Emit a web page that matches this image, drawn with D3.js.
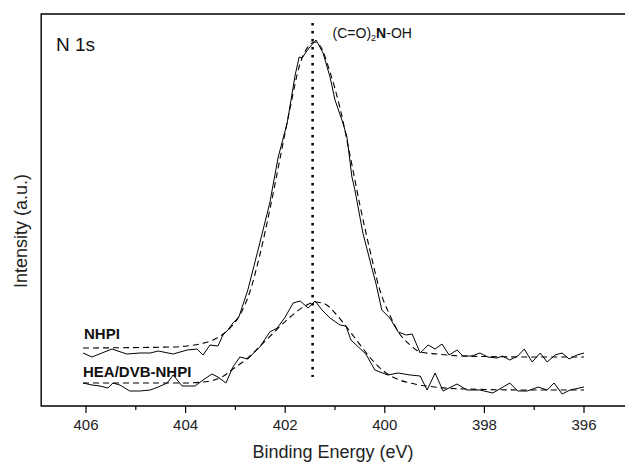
<!DOCTYPE html>
<html>
<head>
<meta charset="utf-8">
<script src="https://cdn.jsdelivr.net/npm/d3@7"></script>
<style>
  body { margin: 0; background: #fff; }
  svg { display: block; font-family: "Liberation Sans", Arial, sans-serif; }
</style>
</head>
<body>
<svg id="chart" width="625" height="463"></svg>
<script>
// N 1s XPS spectra, raw (solid) and fitted envelope (dashed)

// NHPI raw
const nhpiE = [406.06, 405.88, 405.48, 405.18, 404.92, 404.71, 404.55, 404.25, 403.97, 403.77,
  403.65, 403.51, 403.35, 403.25, 403.15, 403.05, 402.93, 402.83, 402.75, 402.51,
  402.31, 402.14, 401.96, 401.80, 401.72, 401.66, 401.58, 401.52, 401.38, 401.24,
  401.10, 401.00, 400.84, 400.76, 400.66, 400.60, 400.44, 400.26, 400.18, 400.06,
  399.90, 399.73, 399.57, 399.45, 399.29, 399.13, 398.99, 398.85, 398.71, 398.55,
  398.43, 398.25, 398.09, 397.93, 397.75, 397.63, 397.49, 397.33, 397.20, 397.04,
  396.88, 396.74, 396.58, 396.44, 396.30, 396.14, 396.00];
const nhpiI = [52, 48, 56, 51, 52, 52, 54, 51, 55, 56,
  50, 60, 59, 70, 75, 82, 88, 103, 115, 162,
  202, 248, 282, 330, 348, 347, 353, 357, 365, 352,
  328, 305, 282, 268, 228, 215, 172, 137, 122, 95,
  87, 73, 70, 71, 52, 60, 56, 61, 50, 55,
  49, 49, 52, 48, 47, 49, 45, 49, 56, 43,
  52, 43, 50, 52, 46, 50, 52];

// NHPI fit
const nhpiFitE = [406.06, 404.30, 403.97, 403.71, 403.45, 403.27, 403.11, 402.91, 402.71, 402.51,
  402.31, 402.11, 401.91, 401.71, 401.51, 401.41, 401.31, 401.10, 400.90, 400.70,
  400.50, 400.30, 400.10, 399.90, 399.70, 399.49, 399.29, 398.95, 398.43, 397.00, 396.00];
const nhpiFitI = [57, 58, 59, 61, 65, 70, 77, 90, 113, 150,
  195, 245, 295, 340, 360, 363, 360, 333, 297, 250,
  200, 155, 115, 90, 71, 60, 53, 51, 49, 48, 48];

// HEA/DVB-NHPI raw
const heaE = [406.06, 405.88, 405.72, 405.56, 405.46, 405.32, 405.12, 404.92, 404.71, 404.55,
  404.37, 404.25, 404.07, 403.81, 403.65, 403.47, 403.35, 403.19, 403.05, 402.91,
  402.75, 402.51, 402.31, 402.16, 402.00, 401.84, 401.70, 401.54, 401.40, 401.26,
  401.10, 400.90, 400.78, 400.68, 400.38, 400.20, 399.94, 399.73, 399.49, 399.29,
  399.15, 398.99, 398.83, 398.55, 398.35, 398.09, 397.83, 397.49, 397.33, 397.14,
  396.92, 396.74, 396.60, 396.44, 396.28, 396.00];
const heaI = [22, 20, 19, 17, 22, 20, 14, 14, 15, 18,
  22, 30, 19, 19, 25, 31, 28, 22, 38, 48,
  46, 58, 73, 77, 88, 102, 104, 97, 104, 95,
  87, 80, 79, 65, 51, 35, 30, 32, 30, 29,
  15, 32, 14, 21, 15, 15, 12, 22, 14, 14,
  18, 15, 22, 11, 15, 18];

// HEA/DVB-NHPI fit
const heaFitE = [406.06, 404.00, 403.65, 403.27, 403.05, 402.80, 402.50, 402.20, 401.90, 401.60,
  401.40, 401.20, 401.00, 400.80, 400.60, 400.40, 400.20, 400.00, 399.70, 399.40,
  399.00, 398.40, 397.00, 396.00];
const heaFitI = [22, 22, 23, 28, 36, 45, 59, 74, 88, 99,
  103, 101, 92, 80, 67, 54, 42, 33, 25, 21,
  18, 16, 15, 15];

const xTicks = [406, 404, 402, 400, 398, 396];
const xMinor = [405, 403, 401, 399, 397];
const peakE = 401.45;        // (C=O)2N-OH position
const peakSpan = [28, 382];  // dotted marker extent, a.u.

const svg = d3.select('#chart');
const frameTop = 14, frameBottom = 406;

const x = d3.scaleLinear().domain([406, 396]).range([86, 584]);
const y = d3.scaleLinear().domain([0, 391]).range([405, frameTop]);

const frameLeft = x(406.9);
const frameRight = x(394.9);

// frame: left + top, bottom axis (right side runs off the picture)
svg.append('path')
    .attr('d', `M${frameRight},${frameTop}H${frameLeft}V${frameBottom}H${frameRight}`)
    .attr('fill', 'none')
    .attr('stroke', '#000')
    .attr('stroke-width', 1.4);

// ticks
const g = svg.append('g');
g.selectAll('.maj').data(xTicks).enter().append('line')
    .attr('x1', d => x(d)).attr('x2', d => x(d))
    .attr('y1', frameBottom).attr('y2', frameBottom + 7)
    .attr('stroke', '#000').attr('stroke-width', 1.2);
g.selectAll('.min').data(xMinor).enter().append('line')
    .attr('x1', d => x(d)).attr('x2', d => x(d))
    .attr('y1', frameBottom).attr('y2', frameBottom + 4)
    .attr('stroke', '#000').attr('stroke-width', 1.2);
g.selectAll('.lab').data(xTicks).enter().append('text')
    .attr('x', d => x(d)).attr('y', 430)
    .attr('text-anchor', 'middle')
    .attr('font-size', '15px')
    .attr('fill', '#222')
    .text(d => d);

// axis titles
svg.append('text')
    .attr('x', 333).attr('y', 458)
    .attr('text-anchor', 'middle')
    .attr('font-size', '18px')
    .attr('fill', '#222')
    .text('Binding Energy (eV)');
svg.append('text')
    .attr('transform', 'translate(27,231) rotate(-90)')
    .attr('text-anchor', 'middle')
    .attr('font-size', '18px')
    .attr('fill', '#222')
    .text('Intensity (a.u.)');

svg.append('text')
    .attr('x', 56).attr('y', 51)
    .attr('font-size', '19px')
    .attr('fill', '#111')
    .text('N 1s');

// dotted marker
svg.append('line')
    .attr('x1', x(peakE)).attr('x2', x(peakE))
    .attr('y1', y(peakSpan[1])).attr('y2', y(peakSpan[0]))
    .attr('stroke', '#000')
    .attr('stroke-width', 2.5)
    .attr('stroke-dasharray', '2.5,5.5');

const ann = svg.append('text')
    .attr('x', x(peakE) + 20).attr('y', 38)
    .attr('font-size', '14px')
    .attr('fill', '#111');
ann.append('tspan').text('(C=O)');
ann.append('tspan').attr('font-size', '9px').attr('dy', 3).text('2');
ann.append('tspan').attr('font-weight', 'bold').attr('dy', -3).text('N');
ann.append('tspan').text('-OH');

// spectra
const zip = (a, b) => a.map((v, i) => [v, b[i]]).sort((p, q) => q[0] - p[0]);
const raw = d3.line().x(d => x(d[0])).y(d => y(d[1]));
const fit = d3.line().x(d => x(d[0])).y(d => y(d[1])).curve(d3.curveMonotoneX);

[[nhpiE, nhpiI], [heaE, heaI]].forEach(([e, v]) => {
    svg.append('path').datum(zip(e, v))
        .attr('d', raw)
        .attr('fill', 'none')
        .attr('stroke', '#000')
        .attr('stroke-width', 1);
});
[[nhpiFitE, nhpiFitI], [heaFitE, heaFitI]].forEach(([e, v]) => {
    svg.append('path').datum(zip(e, v))
        .attr('d', fit)
        .attr('fill', 'none')
        .attr('stroke', '#000')
        .attr('stroke-width', 1.1)
        .attr('stroke-dasharray', '6,4');
});

// series labels
svg.append('text')
    .attr('x', x(406) - 2).attr('y', 339)
    .attr('font-size', '15px').attr('font-weight', 'bold')
    .attr('fill', '#111')
    .text('NHPI');
svg.append('text')
    .attr('x', x(406) - 3).attr('y', 377)
    .attr('font-size', '15px').attr('font-weight', 'bold')
    .attr('fill', '#111')
    .text('HEA/DVB-NHPI');
</script>
</body>
</html>
